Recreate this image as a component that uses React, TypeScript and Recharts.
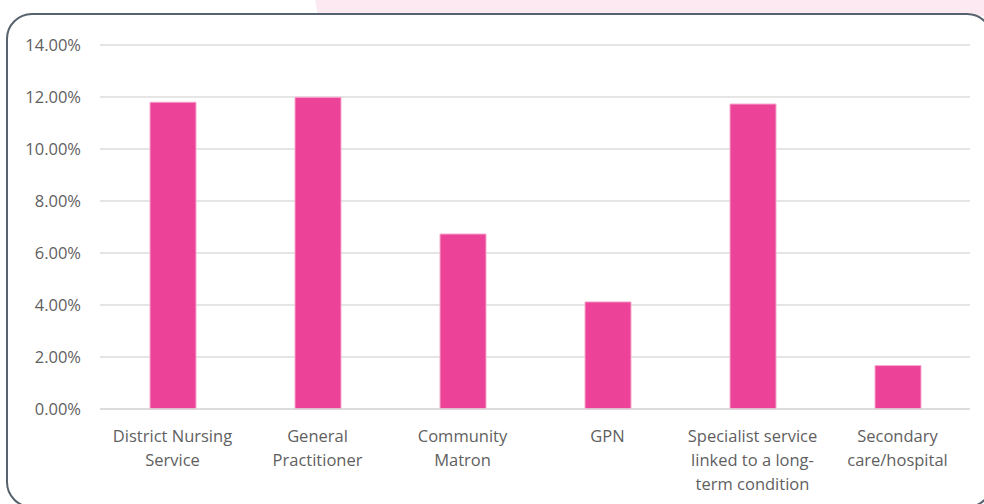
import React from "react";
import { BarChart, Bar, XAxis, YAxis, CartesianGrid } from "recharts";

const categories = [
  "District Nursing Service",
  "General Practitioner",
  "Community Matron",
  "GPN",
  "Specialist service linked to a long-term condition",
  "Secondary care/hospital",
];
const categoryLines = [
  ["District Nursing", "Service"],
  ["General", "Practitioner"],
  ["Community", "Matron"],
  ["GPN"],
  ["Specialist service", "linked to a long-", "term condition"],
  ["Secondary", "care/hospital"],
];
const values = [0.118, 0.1199, 0.0673, 0.0412, 0.1173, 0.0167];
const yTicks = [0, 0.02, 0.04, 0.06, 0.08, 0.1, 0.12, 0.14];

const data = categories.map((c, i) => ({ name: c, value: values[i], idx: i }));

const FONT = "'Open Sans', sans-serif";
const TEXT = "#5f5f5f";

const XTick = (props: any) => {
  const { x, y, index } = props;
  const lines = categoryLines[index] || [];
  return (
    <text x={x} y={y} textAnchor="middle" fill={TEXT} fontFamily={FONT} fontSize={16.5}>
      {lines.map((l, i) => (
        <tspan key={i} x={x} y={y + 24.5 + i * 24}>
          {l}
        </tspan>
      ))}
    </text>
  );
};

const YTick = (props: any) => {
  const { y, payload } = props;
  return (
    <text x={81} y={y + 6} textAnchor="end" fill={TEXT} fontFamily={FONT} fontSize={16.5}>
      {(payload.value * 100).toFixed(2) + "%"}
    </text>
  );
};

export default function App() {
  return (
    <div
      style={{
        position: "absolute",
        left: 0,
        top: 0,
        width: 984,
        height: 504,
        overflow: "hidden",
        background: "#ffffff",
      }}
    >
      <div
        style={{
          position: "absolute",
          left: 0,
          top: 0,
          width: 984,
          height: 16,
          background: "#fde9f1",
          clipPath: "polygon(315px 0, 984px 0, 984px 16px, 318px 16px)",
        }}
      />
      <div
        style={{
          position: "absolute",
          left: 6,
          top: 13,
          width: 987,
          height: 495,
          border: "2px solid #56626d",
          borderRadius: 26,
          background: "#ffffff",
          boxSizing: "border-box",
        }}
      />
      <div style={{ position: "absolute", left: 0, top: 0 }}>
        <BarChart
          width={984}
          height={504}
          data={data}
          margin={{ top: 45, right: 14, bottom: 0, left: 0 }}
          barSize={46}
        >
          <CartesianGrid vertical={false} stroke="#dcdcdc" strokeWidth={1.5} />
          <XAxis
            dataKey="name"
            height={95}
            axisLine={{ stroke: "#d9d9d9", strokeWidth: 1.5 }}
            tickLine={false}
            tick={<XTick />}
            interval={0}
          />
          <YAxis
            width={100}
            domain={[0, 0.14]}
            ticks={yTicks}
            axisLine={false}
            tickLine={false}
            tick={<YTick />}
          />
          <Bar
            dataKey="value"
            fill="#ec4399"
            stroke="#f7a9cd"
            strokeWidth={1}
            isAnimationActive={false}
          />
        </BarChart>
      </div>
    </div>
  );
}
